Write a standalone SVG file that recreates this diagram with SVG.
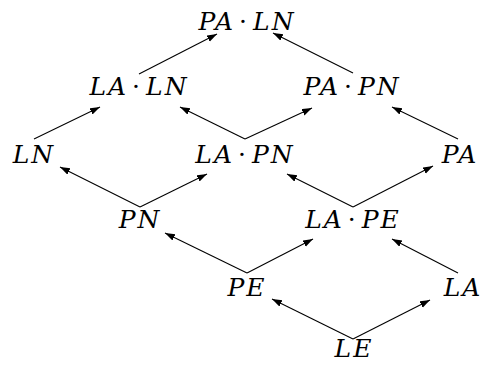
<svg xmlns="http://www.w3.org/2000/svg" width="483" height="365" viewBox="0 0 483 365">
<defs>
<style>
.lbl{font-family:"DejaVu Serif","Liberation Serif",serif;font-size:25px;font-style:italic;letter-spacing:2px;fill:#000;text-anchor:middle}
.op{font-style:normal}
.edge{stroke:#000;stroke-width:1.1;fill:none;marker-end:url(#ah)}
</style>
<marker id="ah" markerUnits="userSpaceOnUse" markerWidth="11" markerHeight="8" refX="10" refY="3.5" orient="auto">
<path d="M0,0 L10,3.5 L0,7 Z" fill="#000"/>
</marker>
</defs>
<rect width="483" height="365" fill="#fff"/>
<g id="connectors">
<line class="edge" x1="139" y1="74" x2="217" y2="34"/>
<line class="edge" x1="353" y1="73" x2="273" y2="33"/>
<line class="edge" x1="34" y1="139" x2="100" y2="107"/>
<line class="edge" x1="245" y1="139" x2="180" y2="107"/>
<line class="edge" x1="245" y1="139" x2="312" y2="108"/>
<line class="edge" x1="458" y1="139" x2="392" y2="107"/>
<line class="edge" x1="140" y1="207" x2="60" y2="167"/>
<line class="edge" x1="140" y1="207" x2="207" y2="174"/>
<line class="edge" x1="353" y1="207" x2="287" y2="174"/>
<line class="edge" x1="353" y1="207" x2="433" y2="166"/>
<line class="edge" x1="247" y1="273" x2="165" y2="233"/>
<line class="edge" x1="247" y1="273" x2="313" y2="239"/>
<line class="edge" x1="458" y1="273" x2="392" y2="239"/>
<line class="edge" x1="353" y1="339" x2="272" y2="299"/>
<line class="edge" x1="353" y1="339" x2="430" y2="300"/>
</g>
<g id="PA_LN"><text class="lbl" x="247" y="30">PA<tspan class="op" dx="4">·</tspan><tspan dx="4">LN</tspan></text></g>
<g id="LA_LN"><text class="lbl" x="139" y="95">LA<tspan class="op" dx="4">·</tspan><tspan dx="4">LN</tspan></text></g>
<g id="PA_PN"><text class="lbl" x="352" y="95">PA<tspan class="op" dx="4">·</tspan><tspan dx="4">PN</tspan></text></g>
<g id="LN"><text class="lbl" x="34" y="163">LN</text></g>
<g id="LA_PN"><text class="lbl" x="245" y="163">LA<tspan class="op" dx="4">·</tspan><tspan dx="4">PN</tspan></text></g>
<g id="PA"><text class="lbl" x="460" y="163">PA</text></g>
<g id="PN"><text class="lbl" x="140" y="228">PN</text></g>
<g id="LA_PE"><text class="lbl" x="353" y="228">LA<tspan class="op" dx="4">·</tspan><tspan dx="4">PE</tspan></text></g>
<g id="PE"><text class="lbl" x="247" y="296">PE</text></g>
<g id="LA"><text class="lbl" x="463" y="296">LA</text></g>
<g id="LE"><text class="lbl" x="354" y="357">LE</text></g>
</svg>
